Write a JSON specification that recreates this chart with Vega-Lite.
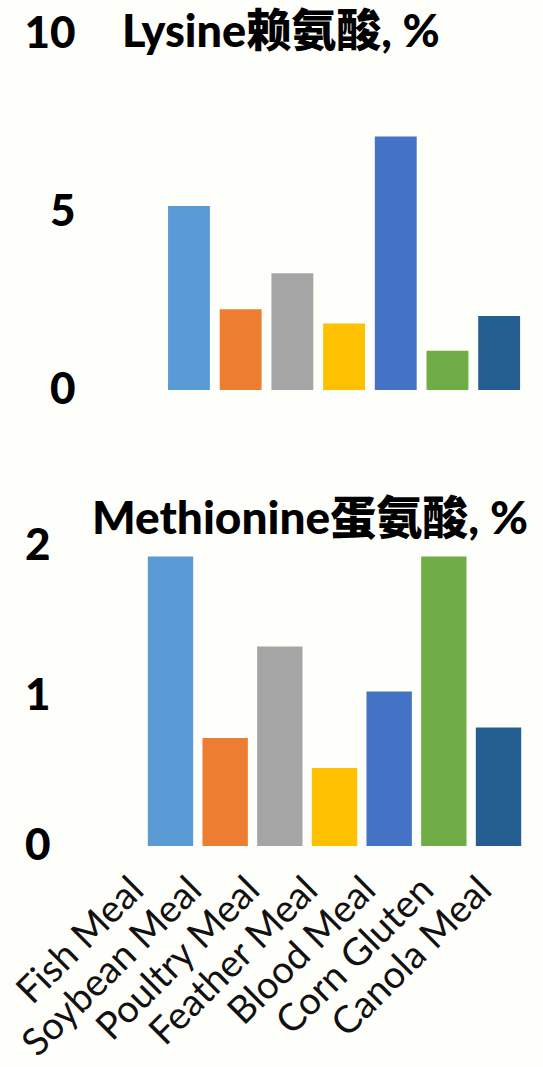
{
  "$schema": "https://vega.github.io/schema/vega-lite/v6.json",
  "background": "#fefefb",
  "padding": {"left": 10, "top": 11, "right": 33, "bottom": 40},
  "spacing": 85,
  "config": {"view": {"stroke": null}},
  "data": {"values": [
    {"feed": "Fish Meal", "lysine": 5.17, "methionine": 1.93},
    {"feed": "Soybean Meal", "lysine": 2.27, "methionine": 0.72},
    {"feed": "Poultry Meal", "lysine": 3.28, "methionine": 1.33},
    {"feed": "Feather Meal", "lysine": 1.87, "methionine": 0.52},
    {"feed": "Blood Meal", "lysine": 7.12, "methionine": 1.03},
    {"feed": "Corn Gluten", "lysine": 1.1, "methionine": 1.93},
    {"feed": "Canola Meal", "lysine": 2.08, "methionine": 0.79}
  ]},
  "vconcat": [
    {
      "width": 385,
      "height": 356,
      "title": {"text": "Lysine赖氨酸, %", "anchor": "start", "frame": "group", "dx": -18, "offset": -80, "baseline": "alphabetic", "fontSize": 45, "font": "Lato, 'Noto Sans CJK SC'", "fontWeight": 900, "color": "#000000"},
      "mark": {"type": "bar"},
      "encoding": {
        "x": {"field": "feed", "type": "nominal", "sort": null, "axis": null, "scale": {"paddingInner": 0.19, "paddingOuter": 0.3185, "align": 0.851}},
        "y": {"field": "lysine", "type": "quantitative", "scale": {"domain": [0, 10]}, "axis": {"values": [0, 5, 10], "format": ".0f", "labelOverlap": false, "title": null, "grid": false, "domain": false, "ticks": false, "tickSize": 0, "labelPadding": 65, "labelFontSize": 44, "labelFont": "Lato", "labelFontWeight": 900, "labelColor": "#000000"}},
        "color": {"field": "feed", "type": "nominal", "sort": null, "legend": null, "scale": {"range": ["#5B9BD5", "#ED7D31", "#A5A5A5", "#FFC000", "#4472C4", "#70AD47", "#255E91"]}}
      }
    },
    {
      "width": 389,
      "height": 300,
      "title": {"text": "Methionine蛋氨酸, %", "anchor": "start", "frame": "group", "dx": -48, "offset": -56, "baseline": "alphabetic", "fontSize": 46, "font": "Lato, 'Noto Sans CJK SC'", "fontWeight": 900, "color": "#000000"},
      "layer": [
        {
          "mark": {"type": "bar"},
          "encoding": {
            "x": {"field": "feed", "type": "nominal", "sort": null, "axis": null, "scale": {"paddingInner": 0.17, "paddingOuter": 0.1426}},
            "y": {"field": "methionine", "type": "quantitative", "scale": {"domain": [0, 2]}, "axis": {"values": [0, 1, 2], "format": ".0f", "labelOverlap": false, "labelFlush": false, "title": null, "grid": false, "domain": false, "ticks": false, "tickSize": 0, "labelPadding": 90, "labelFontSize": 44, "labelFont": "Lato", "labelFontWeight": 900, "labelColor": "#000000"}},
            "color": {"field": "feed", "type": "nominal", "sort": null, "legend": null, "scale": {"range": ["#5B9BD5", "#ED7D31", "#A5A5A5", "#FFC000", "#4472C4", "#70AD47", "#255E91"]}}
          }
        },
        {
          "mark": {"type": "point", "opacity": 0},
          "encoding": {
            "x": {"field": "feed", "type": "nominal", "sort": null, "scale": {"type": "point", "padding": 0.353}, "axis": {"orient": "bottom", "title": null, "labelAngle": -45, "labelAlign": "right", "labelBaseline": "middle", "labelOffset": -23, "labelPadding": 38, "labelFontSize": 38, "labelFont": "Lato", "labelColor": "#111111", "domain": false, "ticks": false, "tickSize": 0, "grid": false, "labelOverlap": false, "labelLimit": 0}},
            "y": {"field": "methionine", "type": "quantitative"}
          }
        }
      ],
      "resolve": {"scale": {"x": "independent"}}
    }
  ]
}
